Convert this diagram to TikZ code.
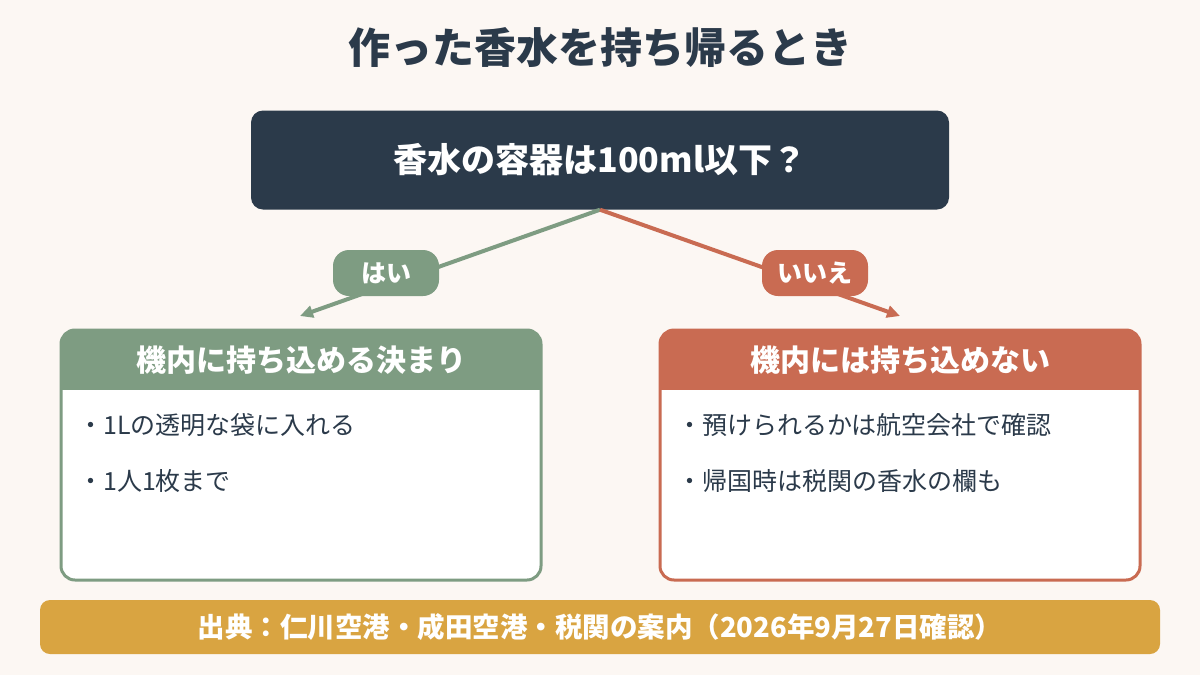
\documentclass[tikz,border=0pt]{standalone}
\usepackage{fontspec}
\setmainfont{Noto Sans CJK JP}
\usepackage{xcolor}
\usetikzlibrary{arrows.meta, positioning, calc}

\definecolor{bgcream}{HTML}{FCF7F3}
\definecolor{navy}{HTML}{2B3A4A}
\definecolor{sage}{HTML}{7E9C82}
\definecolor{terra}{HTML}{C96B52}
\definecolor{gold}{HTML}{D9A441}

\begin{document}
\begin{tikzpicture}[
  x=1pt, y=-1pt,
  title/.style={font=\fontsize{42}{50}\selectfont\bfseries, text=navy},
  qbox/.style={rounded corners=12pt, fill=navy, text=white,
               minimum width=698pt, minimum height=99pt,
               font=\fontsize{34}{40}\selectfont\bfseries},
  card/.style={draw=#1, line width=3pt, fill=white, rounded corners=14pt,
               minimum width=480pt, minimum height=250pt, outer sep=0pt},
  headtxt/.style={text=white, font=\fontsize{30}{36}\selectfont\bfseries},
  item/.style={text=navy, anchor=west, inner sep=0pt,
               font=\fontsize{25}{30}\selectfont},
  pill/.style={fill=#1, text=white, rounded corners=16pt,
               minimum width=106pt, minimum height=46pt,
               font=\fontsize{25}{30}\selectfont\bfseries},
  branch/.style={draw=#1, line width=4pt,
                 -{Triangle[length=13pt, width=12pt]}},
  foot/.style={fill=gold, text=white, rounded corners=10pt,
               minimum width=1120pt, minimum height=54pt,
               font=\fontsize{27.5}{32}\selectfont\bfseries},
]
%% ---------- Canvas --------------------------------------------
\useasboundingbox (0,0) rectangle (1200,675);
\fill[bgcream] (0,0) rectangle (1200,675);

%% ---------- Title / question ----------------------------------
\node[title] (head) at (600,48) {作った香水を持ち帰るとき};
\node[qbox]  (question) at (600,160) {香水の容器は100ml以下？};

%% ---------- Result cards --------------------------------------
\node[card=sage]  (yesbox) at (301,455) {};
\node[card=terra] (nobox)  at (900,455) {};

\foreach \crd/\col in {yesbox/sage, nobox/terra}{
  \begin{scope}
    \clip[rounded corners=14pt] (\crd.north west) rectangle (\crd.south east);
    \fill[\col] (\crd.north west) rectangle ([yshift=-60pt]\crd.north east);
  \end{scope}
}

\node[headtxt] (yeshead) at ([yshift=-30pt]yesbox.north) {機内に持ち込める決まり};
\node[headtxt] (nohead)  at ([yshift=-30pt]nobox.north)  {機内には持ち込めない};

\node[item] (yes1) at ([xshift=17pt, yshift=-95pt]yesbox.north west) {・1Lの透明な袋に入れる};
\node[item] (yes2) at ([yshift=-56pt]yes1.west) {・1人1枚まで};
\node[item] (no1)  at ([xshift=17pt, yshift=-95pt]nobox.north west) {・預けられるかは航空会社で確認};
\node[item] (no2)  at ([yshift=-56pt]no1.west) {・帰国時は税関の香水の欄も};

%% ---- Branches ------------------------------------------------
\coordinate (yestip) at (300,316);
\coordinate (notip)  at (900,316);
\draw[branch=sage]  (question.south) -- (yestip);
\draw[branch=terra] (question.south) -- (notip);

\node[pill=sage]  (yes) at (386,273) {はい};
\node[pill=terra] (no)  at (815,273) {いいえ};

%% ---------- Source --------------------------------------------
\node[foot] (source) at (600,627)
      {出典：仁川空港・成田空港・税関の案内（2026年9月27日確認）};
\end{tikzpicture}
\end{document}
